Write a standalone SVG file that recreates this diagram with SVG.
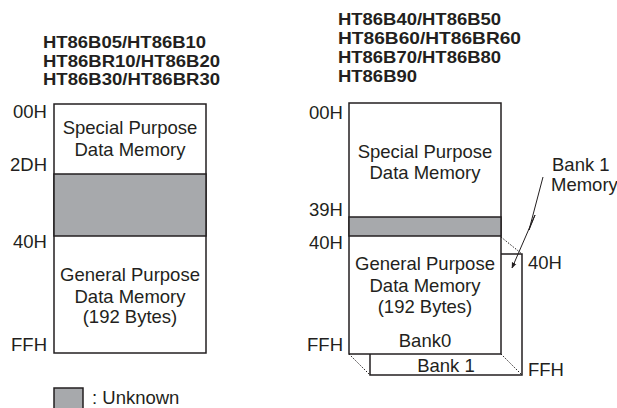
<svg xmlns="http://www.w3.org/2000/svg" width="617" height="408" viewBox="0 0 617 408">
<style>
text{font-family:"Liberation Sans",Arial,sans-serif;fill:#231f20}
.t{font-size:16.5px;font-weight:bold}
.b{font-size:18.5px;text-anchor:middle}
.l{font-size:18.5px;text-anchor:end}
.r{font-size:18.5px}
.box{fill:#fff;stroke:#231f20;stroke-width:1.5}
.gray{fill:#a7a9ac;stroke:#231f20;stroke-width:1.5}
.dot{stroke:#231f20;stroke-width:1;stroke-dasharray:1.5 1.5;fill:none}
.ln{stroke:#231f20;stroke-width:1;fill:none}
</style>
<defs>
<marker id="ah" viewBox="0 0 10 10" refX="9" refY="5" markerWidth="6" markerHeight="6" orient="auto"><path d="M0,1 L10,5 L0,9 z" fill="#231f20"/></marker>
</defs>
<g id="left-title">
<text class="t" x="43" y="48" textLength="163" lengthAdjust="spacingAndGlyphs">HT86B05/HT86B10</text>
<text class="t" x="43" y="67" textLength="177" lengthAdjust="spacingAndGlyphs">HT86BR10/HT86B20</text>
<text class="t" x="43" y="85" textLength="177" lengthAdjust="spacingAndGlyphs">HT86B30/HT86BR30</text>
</g>
<g id="left-map">
<rect class="box" x="54" y="104" width="152" height="249"/>
<rect class="gray" x="54" y="174" width="152" height="62"/>
<text class="b" x="130" y="134">Special Purpose</text>
<text class="b" x="130" y="156">Data Memory</text>
<text class="b" x="130" y="281">General Purpose</text>
<text class="b" x="130" y="303">Data Memory</text>
<text class="b" x="130" y="323">(192 Bytes)</text>
<text class="l" x="47" y="118">00H</text>
<text class="l" x="47" y="171">2DH</text>
<text class="l" x="47" y="248">40H</text>
<text class="l" x="47" y="351">FFH</text>
</g>
<g id="right-title">
<text class="t" x="338" y="25" textLength="163" lengthAdjust="spacingAndGlyphs">HT86B40/HT86B50</text>
<text class="t" x="338" y="44" textLength="183" lengthAdjust="spacingAndGlyphs">HT86B60/HT86BR60</text>
<text class="t" x="338" y="63" textLength="163" lengthAdjust="spacingAndGlyphs">HT86B70/HT86B80</text>
<text class="t" x="338" y="82" textLength="79" lengthAdjust="spacingAndGlyphs">HT86B90</text>
</g>
<g id="bank1">
<polyline class="box" points="501,254 522,254 522,375 370,375 370,354"/>
<text class="b" x="446" y="372">Bank 1</text>
</g>
<g id="right-map">
<rect class="box" x="349" y="103" width="152" height="251"/>
<rect class="gray" x="349" y="217" width="152" height="19"/>
<text class="b" x="425" y="158">Special Purpose</text>
<text class="b" x="425" y="179">Data Memory</text>
<text class="b" x="425" y="270">General Purpose</text>
<text class="b" x="425" y="292">Data Memory</text>
<text class="b" x="425" y="313">(192 Bytes)</text>
<text class="b" x="425" y="347">Bank0</text>
<text class="l" x="343" y="119">00H</text>
<text class="l" x="343" y="216">39H</text>
<text class="l" x="343" y="249">40H</text>
<text class="l" x="343" y="351">FFH</text>
<text class="r" x="528" y="269">40H</text>
<text class="r" x="528" y="376">FFH</text>
</g>
<g id="connectors">
<line class="dot" x1="501" y1="237" x2="522" y2="254"/>
<line class="dot" x1="349" y1="354" x2="370" y2="375"/>
<line class="dot" x1="501" y1="354" x2="522" y2="375"/>
<polyline class="ln" points="543,177 529,230 535,215 512,268" marker-end="url(#ah)"/>
</g>
<g id="bank1-label">
<text class="r" x="552" y="171">Bank 1</text>
<text class="r" x="551" y="191">Memory</text>
</g>
<g id="legend">
<rect class="gray" x="54" y="388" width="29" height="24"/>
<text class="r" x="92" y="404">: Unknown</text>
</g>
</svg>
